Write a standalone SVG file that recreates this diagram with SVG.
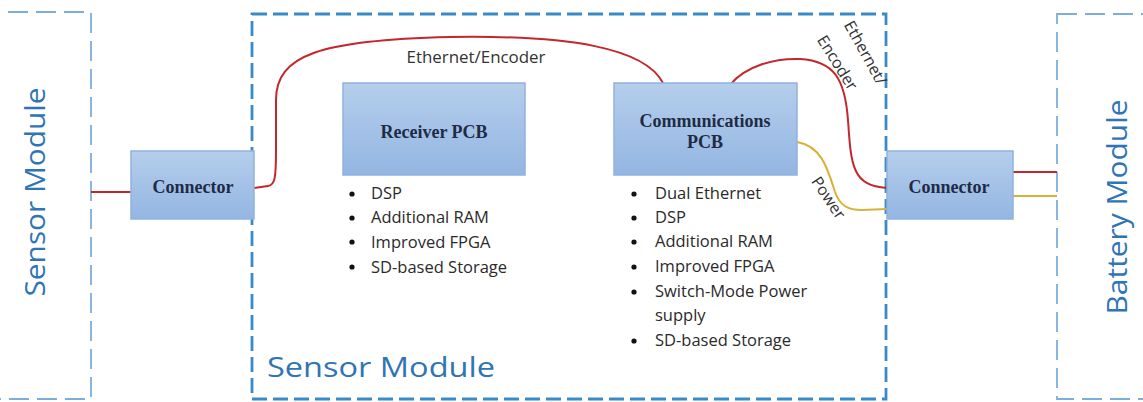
<svg xmlns="http://www.w3.org/2000/svg" width="1143" height="402" viewBox="0 0 1143 402">
<defs>
<linearGradient id="boxg" x1="0" y1="0" x2="0" y2="1">
<stop offset="0" stop-color="#B5CEEC"/>
<stop offset="1" stop-color="#93B6E2"/>
</linearGradient>
<style>
.box{fill:url(#boxg);stroke:#8FB2DE;stroke-width:1.5}
.outer{fill:none;stroke:#7DAEDB;stroke-width:1.8;stroke-dasharray:20 8}
.mid{fill:none;stroke:#3A8AC8;stroke-width:2.8;stroke-dasharray:15 6}
.title{font-family:"Open Sans","Liberation Sans",sans-serif;fill:#2F74B5;font-size:27px}
.pcb{font-family:"Liberation Serif",serif;font-weight:bold;fill:#1F2B45;font-size:18px;text-anchor:middle}
.li{font-family:"Open Sans","Liberation Sans",sans-serif;fill:#2A2A2A;font-size:16.5px}
.lbl{font-family:"Open Sans","Liberation Sans",sans-serif;fill:#333;font-size:16px}
.red{fill:none;stroke:#C4262E;stroke-width:2}
.yel{fill:none;stroke:#D6B23A;stroke-width:2}
</style>
</defs>
<rect width="1143" height="402" fill="#FFFFFF"/>

<g id="sensor-module-left">
<rect class="outer" x="-20" y="12" width="111" height="387"/>
<text class="title" transform="translate(45,192) rotate(-90)" text-anchor="middle" textLength="209" lengthAdjust="spacingAndGlyphs">Sensor Module</text>
</g>

<g id="sensor-module">
<rect class="mid" x="252" y="14" width="634" height="385"/>
<text class="title" x="267" y="377" textLength="228" lengthAdjust="spacingAndGlyphs">Sensor Module</text>
</g>

<g id="battery-module">
<rect class="outer" x="1057" y="14" width="110" height="385"/>
<text class="title" transform="translate(1127,207) rotate(-90)" text-anchor="middle" textLength="215" lengthAdjust="spacingAndGlyphs">Battery Module</text>
</g>

<g id="connectors">
<path class="red" d="M91,192 L131,192"/>
<path class="red" d="M254,188 L268,186 C275,185 276,178 276,150 L276,100 C276,55 320,40 450,37 C570,35 645,48 663,83"/>
<path class="red" d="M730,85 C745,66 775,58 800,59 C835,61 845,80 848,120 C851,165 852,186 887,188"/>
<path class="yel" d="M797,142 C822,146 828,170 835,192 C840,206 848,210 862,210 L887,209"/>
<path class="red" d="M1013,172 L1057,172"/>
<path class="yel" d="M1013,196 L1057,196"/>
<text class="lbl" x="476" y="63" text-anchor="middle" textLength="139" lengthAdjust="spacingAndGlyphs">Ethernet/Encoder</text>
<text class="lbl" transform="translate(865,53) rotate(61)" text-anchor="middle" dy="5">Ethernet/</text>
<text class="lbl" transform="translate(837,63) rotate(58)" text-anchor="middle" dy="5">Encoder</text>
<text class="lbl" transform="translate(828,198) rotate(56)" text-anchor="middle" dy="5">Power</text>
</g>

<g id="connector-left">
<rect class="box" x="131" y="151" width="123" height="68"/>
<text class="pcb" x="193" y="193" font-size="16">Connector</text>
</g>

<g id="connector-right">
<rect class="box" x="887" y="151" width="126" height="68"/>
<text class="pcb" x="949" y="193" font-size="16">Connector</text>
</g>

<g id="receiver-pcb">
<rect class="box" x="343" y="83" width="182" height="92"/>
<text class="pcb" x="434" y="138">Receiver PCB</text>
<g class="li">
<circle cx="352" cy="194" r="2.6" fill="#111"/><text x="371" y="199">DSP</text>
<circle cx="352" cy="218" r="2.6" fill="#111"/><text x="371" y="223">Additional RAM</text>
<circle cx="352" cy="242" r="2.6" fill="#111"/><text x="371" y="248">Improved FPGA</text>
<circle cx="352" cy="267" r="2.6" fill="#111"/><text x="371" y="273">SD-based Storage</text>
</g>
</g>

<g id="communications-pcb">
<rect class="box" x="614" y="83" width="183" height="92"/>
<text class="pcb" x="705" y="127">Communications</text>
<text class="pcb" x="705" y="148">PCB</text>
<g class="li">
<circle cx="634" cy="194" r="2.6" fill="#111"/><text x="655" y="199">Dual Ethernet</text>
<circle cx="634" cy="218" r="2.6" fill="#111"/><text x="655" y="223">DSP</text>
<circle cx="634" cy="242" r="2.6" fill="#111"/><text x="655" y="247">Additional RAM</text>
<circle cx="634" cy="267" r="2.6" fill="#111"/><text x="655" y="272">Improved FPGA</text>
<circle cx="634" cy="292" r="2.6" fill="#111"/><text x="655" y="297">Switch-Mode Power</text>
<text x="655" y="321">supply</text>
<circle cx="634" cy="341" r="2.6" fill="#111"/><text x="655" y="346">SD-based Storage</text>
</g>
</g>
</svg>
